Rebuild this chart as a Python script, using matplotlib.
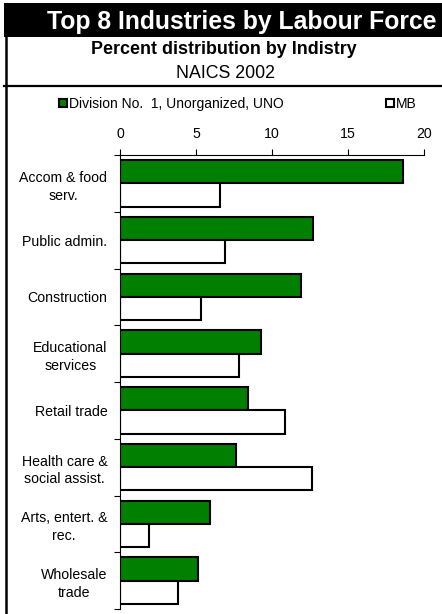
import matplotlib
matplotlib.use('Agg')
import matplotlib.pyplot as plt
from matplotlib.patches import Rectangle, Patch
from matplotlib.lines import Line2D
import numpy as np

plt.rcParams['font.family'] = ['Liberation Sans', 'DejaVu Sans']

industries = ['Accom & food\nserv.', 'Public admin.', 'Construction', 'Educational\nservices',
              'Retail trade', 'Health care &\nsocial assist.', 'Arts, entert. &\nrec.', 'Wholesale\ntrade']
uno = [18.6, 12.7, 11.9, 9.3, 8.4, 7.6, 5.95, 5.1]   # Division No. 1, Unorganized, UNO
mb = [6.6, 6.9, 5.35, 7.85, 10.85, 12.6, 1.9, 3.8]   # MB
xticks = [0, 5, 10, 15, 20]

W, H = 442, 614
fig = plt.figure(figsize=(W / 100, H / 100), dpi=100)

# title bar and frame lines
fig.patches.append(Rectangle((4 / W, 1 - 37 / H), 1, 34 / H, transform=fig.transFigure,
                             facecolor='black', edgecolor='none'))
fig.lines.append(Line2D([5.5 / W, 5.5 / W], [0, 1 - 36 / H], transform=fig.transFigure,
                        color='black', lw=1.8))
fig.lines.append(Line2D([4 / W, 1], [1 - 86 / H, 1 - 86 / H], transform=fig.transFigure,
                        color='black', lw=1.6))

fig.text(242 / W, 1 - 29.5 / H, 'Top 8 Industries by Labour Force', color='white',
         fontsize=17.8, fontweight='bold', ha='center', va='baseline')
fig.text(224 / W, 1 - 53.5 / H, 'Percent distribution by Indistry', fontsize=12.9,
         fontweight='bold', ha='center', va='baseline')
fig.text(225 / W, 1 - 77.5 / H, 'NAICS 2002', fontsize=12.8, ha='center', va='baseline')

ax = fig.add_axes([120 / W, 1 - 609 / H, 304 / W, 454 / H])
pos = np.arange(len(industries))
h = 0.41
ax.barh(pos - h / 2, uno, height=h, color='#007f00', edgecolor='black', linewidth=1.5,
        label='Division No.  1, Unorganized, UNO')
ax.barh(pos + h / 2, mb, height=h, color='white', edgecolor='black', linewidth=1.5, label='MB')

ax.set_xlim(0, 20)
ax.set_ylim(len(industries) - 0.5, -0.5)
ax.xaxis.tick_top()
ax.set_xticks(xticks)
ax.tick_params(axis='x', length=4, width=0.8, labelsize=10.2, pad=6)
ax.set_yticks(pos)
ax.set_yticklabels(industries, fontsize=10.2, multialignment='center', linespacing=1.35)
ax.tick_params(axis='y', which='major', length=0, pad=9)
ax.set_yticks(np.arange(len(industries) + 1) - 0.5, minor=True)
ax.tick_params(axis='y', which='minor', length=4, width=0.8)
for s in ['right', 'bottom']:
    ax.spines[s].set_visible(False)
ax.spines['top'].set_linewidth(0.8)
ax.spines['left'].set_linewidth(0.8)

handles = [Patch(facecolor='#007f00', edgecolor='black', linewidth=1.5),
           Patch(facecolor='white', edgecolor='black', linewidth=1.5)]
fig.legend(handles, ['Division No.  1, Unorganized, UNO', 'MB'], ncol=2, frameon=False,
           fontsize=10, loc='center left', bbox_to_anchor=(59 / W, 1 - 104 / H),
           handlelength=0.55, handleheight=0.55, handletextpad=0.15, columnspacing=7.4,
           borderpad=0, borderaxespad=0)

fig.savefig('out.png', dpi=100)
